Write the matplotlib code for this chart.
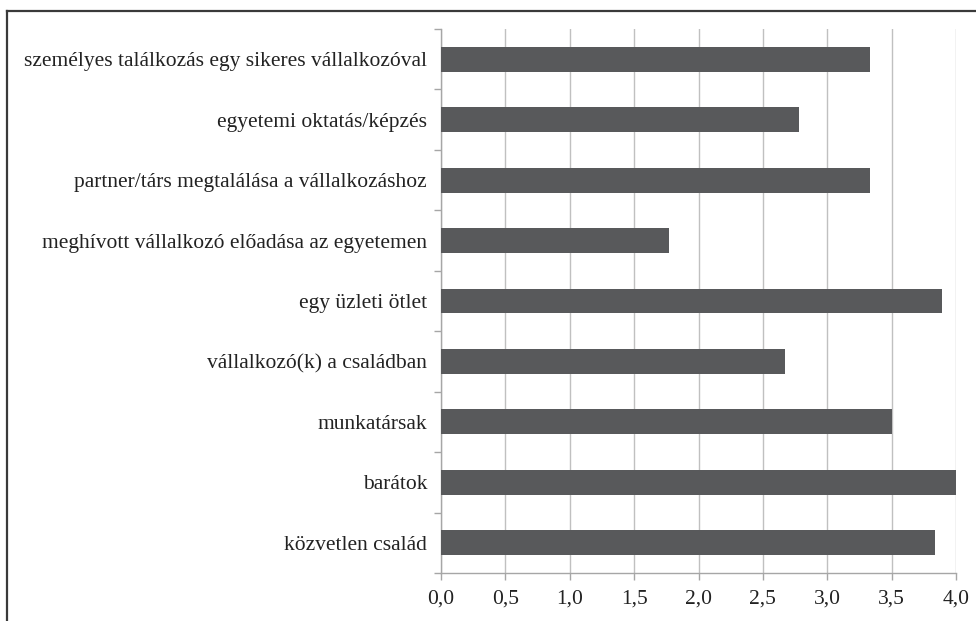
import numpy as np
import matplotlib.pyplot as plt
from matplotlib.lines import Line2D
from matplotlib.ticker import FuncFormatter, MultipleLocator

# categories from bottom to top
categories = [
    "közvetlen család",
    "barátok",
    "munkatársak",
    "vállalkozó(k) a családban",
    "egy üzleti ötlet",
    "meghívott vállalkozó előadása az egyetemen",
    "partner/társ megtalálása a vállalkozáshoz",
    "egyetemi oktatás/képzés",
    "személyes találkozás egy sikeres vállalkozóval",
]
values = [3.84, 4.00, 3.50, 2.67, 3.89, 1.77, 3.33, 2.78, 3.33]

plt.rcParams['font.family'] = ['Liberation Serif', 'DejaVu Serif']

fig = plt.figure(figsize=(9.76, 6.21), dpi=100)
ax = fig.add_axes([441 / 976, 48 / 621, 515 / 976, 544 / 621])

y = np.arange(len(categories))
ax.barh(y, values, height=0.41, color='#58595b', zorder=3)

ax.set_xlim(0, 4.0)
ax.set_ylim(-0.5, len(categories) - 0.5)
ax.xaxis.set_major_locator(MultipleLocator(0.5))
ax.xaxis.set_major_formatter(FuncFormatter(lambda v, p: f"{v:.1f}".replace('.', ',')))
ax.grid(axis='x', color='#c0c0c0', linewidth=1.0, zorder=0)

ax.set_yticks(y)
ax.set_yticklabels(categories)
ax.set_yticks(np.arange(-0.5, len(categories), 1.0), minor=True)
ax.tick_params(axis='y', which='major', length=0, pad=10, labelsize=15.5, colors='#222222')
ax.tick_params(axis='y', which='minor', length=5, color='#a6a6a6', width=1)
ax.tick_params(axis='x', which='major', length=5, color='#a6a6a6', width=1, pad=7,
               labelsize=15.5, labelcolor='#222222')

for side in ['top', 'right']:
    ax.spines[side].set_visible(False)
for side in ['left', 'bottom']:
    ax.spines[side].set_color('#a6a6a6')
    ax.spines[side].set_linewidth(1)

# outer frame (top and left edges of the cropped chart border)
fig.add_artist(Line2D([6.5 / 976, 1], [1 - 10.5 / 621, 1 - 10.5 / 621],
                      transform=fig.transFigure, color='#3a3a3a', linewidth=1.6))
fig.add_artist(Line2D([6.5 / 976, 6.5 / 976], [0, 1 - 10.5 / 621],
                      transform=fig.transFigure, color='#3a3a3a', linewidth=1.6))

fig.savefig('out.png', dpi=100)
